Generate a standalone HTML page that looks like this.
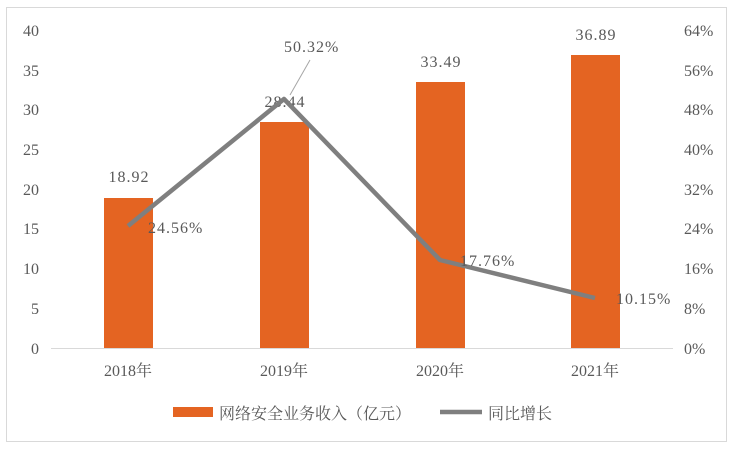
<!DOCTYPE html>
<html><head><meta charset="utf-8"><style>
body{margin:0;background:#fff;}
svg text{font-family:"Liberation Serif","Noto Serif CJK SC",serif;fill:#595959;font-size:16px;}
.d{letter-spacing:1px;}
</style></head><body>
<svg width="734" height="450" xmlns="http://www.w3.org/2000/svg">
<rect x="6.5" y="7.5" width="720" height="434" fill="#fff" stroke="#d9d9d9"/>
<line x1="51" y1="348.5" x2="673" y2="348.5" stroke="#d9d9d9" stroke-width="1"/>
<g text-anchor="end">
<text x="39" y="36">40</text><text x="39" y="76">35</text><text x="39" y="115">30</text><text x="39" y="155">25</text>
<text x="39" y="195">20</text><text x="39" y="234">15</text><text x="39" y="274">10</text><text x="39" y="314">5</text><text x="39" y="354">0</text>
</g>
<g text-anchor="start">
<text x="684" y="36">64%</text><text x="684" y="76">56%</text><text x="684" y="115">48%</text><text x="684" y="155">40%</text>
<text x="684" y="195">32%</text><text x="684" y="234">24%</text><text x="684" y="274">16%</text><text x="684" y="314">8%</text><text x="684" y="354">0%</text>
</g>
<g fill="#e46422">
<rect x="104" y="198" width="49" height="150"/>
<rect x="260" y="122" width="49" height="226"/>
<rect x="416" y="82" width="49" height="266"/>
<rect x="571" y="55" width="49" height="293"/>
</g>
<g text-anchor="middle">
<text class="d" x="129" y="182">18.92</text><text class="d" x="285" y="107">28.44</text><text class="d" x="441" y="67">33.49</text><text class="d" x="596" y="40">36.89</text>
<text x="128" y="376">2018年</text><text x="284" y="376">2019年</text><text x="440" y="376">2020年</text><text x="595" y="376">2021年</text>
</g>
<line x1="310" y1="60" x2="290" y2="95" stroke="#a6a6a6" stroke-width="1"/>
<polyline points="128,226 284,99 440,260 595,298" fill="none" stroke="#7f7f7f" stroke-width="4.5" stroke-linejoin="round"/>
<text class="d" x="148" y="233">24.56%</text>
<text class="d" x="284" y="52">50.32%</text>
<text class="d" x="460" y="266">17.76%</text>
<text class="d" x="616" y="304">10.15%</text>
<rect x="173" y="407" width="40" height="10" fill="#e46422"/>
<text x="219" y="419">网络安全业务收入（亿元）</text>
<line x1="440" y1="412" x2="482" y2="412" stroke="#7f7f7f" stroke-width="4.5"/>
<text x="488" y="419">同比增长</text>
</svg>
</body></html>
